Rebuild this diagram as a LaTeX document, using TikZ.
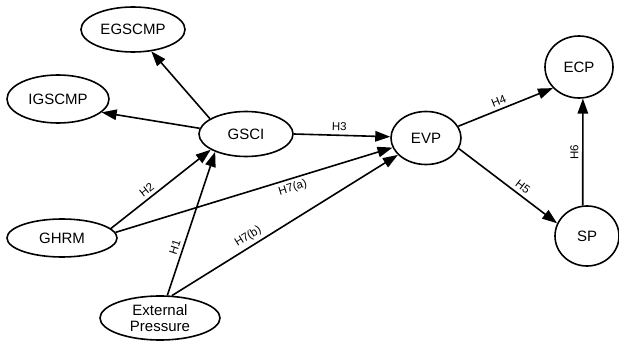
\documentclass[tikz,border=0pt]{standalone}
\usepackage{fontspec}
\setmainfont{Liberation Sans}
\usetikzlibrary{shapes.geometric,arrows.meta}
\begin{document}
\begin{tikzpicture}[x=1pt,y=-1pt,
  latent/.style={draw,ellipse,line width=1.6pt,inner sep=0pt,font=\fontsize{15}{18}\selectfont,align=center},
  conn/.style={line width=1.6pt,-{Triangle[length=15pt,width=10.5pt]}},
  hlab/.style={sloped,font=\fontsize{11.5}{13}\selectfont,inner sep=3.5pt}]
\useasboundingbox (0,0) rectangle (619,342);
\node[latent,minimum width=104pt,minimum height=45pt] (egscmp) at (133,29.5) {EGSCMP};
\node[latent,minimum width=102pt,minimum height=48pt] (igscmp) at (58,99) {IGSCMP};
\node[latent,minimum width=94pt,minimum height=45pt] (gsci) at (246,134) {GSCI};
\node[latent,minimum width=70pt,minimum height=53pt] (evp) at (426,138) {EVP};
\node[latent,minimum width=68pt,minimum height=62pt] (ecp) at (579,67) {ECP};
\node[latent,minimum width=64pt,minimum height=60pt] (sp) at (587,236) {SP};
\node[latent,minimum width=110pt,minimum height=38pt] (ghrm) at (62,238) {GHRM};
\node[latent,minimum width=120pt,minimum height=44pt] (ext) at (160,318) {External\\[-2pt]Pressure};
\draw[conn] (gsci.157) -- (egscmp.310);
\draw[conn] (gsci.173) -- (igscmp.343);
\draw[conn] (gsci.0) -- node[hlab,above,pos=0.47] {H3} (evp.178);
\draw[conn] (ghrm.11) -- node[hlab,above,pos=0.41] {H2} (gsci.204);
\draw[conn] (ghrm.6) -- node[hlab,below,pos=0.63] {H7(a)} (evp.196);
\draw[conn] (ext.72) -- node[hlab,above,pos=0.32] {H1} (gsci.210);
\draw[conn] (ext.62) -- node[hlab,above,pos=0.36] {H7(b)} (evp.211);
\draw[conn] (evp.20) -- node[hlab,above,pos=0.46] {H4} (ecp.219);
\draw[conn] (evp.342) -- node[hlab,above,pos=0.6] {H5} (sp.157);
\draw[conn] (sp.98) -- node[hlab,above,pos=0.5] {H6} (ecp.277);
\end{tikzpicture}
\end{document}
